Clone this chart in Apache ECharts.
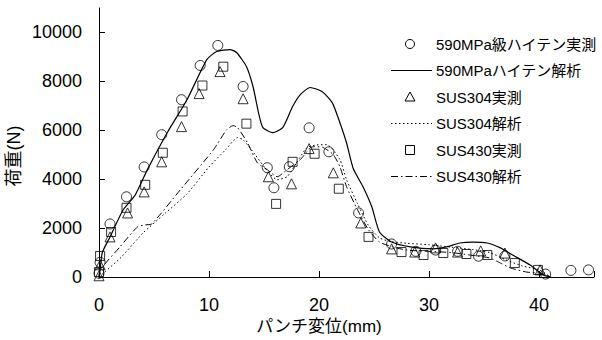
<!DOCTYPE html>
<html>
<head>
<meta charset="utf-8">
<script src="https://cdn.jsdelivr.net/npm/echarts@6/dist/echarts.min.js"></script>
<style>
  html, body { margin: 0; padding: 0; background: #fff; }
  #main { width: 602px; height: 340px; }
</style>
</head>
<body>
<div id="main"></div>
<script>
// パンチ変位(mm) と 荷重(N) の読み取り値
var xTicks = [0, 10, 20, 30, 40];
var yTicks = [0, 2000, 4000, 6000, 8000, 10000];

var hiten_exp = [[0,150],[0.1,600],[1.0,2170],[2.5,3280],[4.1,4500],[5.7,5820],[7.5,7250],[9.2,8650],[10.8,9470],
  [13.1,7790],[15.3,4470],[15.9,3650],[17.3,4510],[19.1,6100],[20.9,5120],[23.6,2620],[26.6,1350],[28.8,1050],
  [30.6,1100],[32.6,1050],[34.5,850],[36.9,860],[40.6,120],[42.9,270],[44.5,290]];

var hiten_fem = [[0,0],[0.1,300],[0.3,1000],[1.0,1640],[2.2,2750],[3.3,3360],[4.4,4390],[6.2,5900],[8.0,7250],
  [9.8,8890],[10.7,9220],[11.9,9300],[12.5,9180],[13.4,8610],[14.0,7790],[14.5,6720],[14.9,6110],[15.8,5900],
  [16.7,6110],[17.6,6970],[18.3,7460],[19.2,7750],[20.3,7580],[21.2,7130],[21.9,6310],[22.5,5490],[23.1,4450],
  [24.0,3690],[24.8,2870],[25.5,1840],[26.6,1430],[28.3,1230],[30.4,1150],[31.6,1230],[32.8,1390],[34.0,1430],
  [35.3,1390],[36.5,1190],[37.6,900],[39.2,490],[40.4,80],[41.1,0]];

var sus304_exp = [[0,50],[0.1,500],[1.0,1640],[2.6,2620],[4.1,3480],[5.7,4710],[7.5,6150],[9.1,7500],[11.0,8400],
  [13.1,7290],[15.4,4100],[17.5,3810],[19.1,5250],[21.3,4260],[23.8,2210],[26.6,1150],[28.7,1020],[30.6,1190],
  [32.6,1020],[34.7,1070],[36.9,980],[40.1,290]];

var sus304_fem = [[0,0],[2,800],[4,1800],[6,2600],[8,3400],[10,4500],[11.5,5200],[12.6,5700],[13.1,5610],
  [14.2,5000],[15.2,4400],[16.2,3980],[17.1,4100],[18.0,4700],[18.9,5290],[19.8,5400],[20.7,5410],[21.9,4800],
  [22.5,3980],[23.5,3000],[24.5,2100],[25.5,1600],[26.5,1450],[28,1380],[30,1320],[32,1220],[34,1120],
  [35.5,1000],[37,700],[38.5,450],[40,300],[41,0]];

var sus430_exp = [[0,200],[0.1,860],[1.1,1840],[2.5,2830],[4.2,3770],[5.8,5080],[7.6,6770],[9.4,7830],[11.3,8600],
  [13.4,6270],[16.1,2990],[17.6,4710],[19.6,5040],[21.8,3610],[24.5,1640],[27.5,1020],[29.5,900],[31.3,980],
  [33.4,940],[35.3,900],[37.8,570],[39.9,290]];

var sus430_fem = [[0,0],[0.1,290],[1.9,1230],[3.5,2050],[4.2,2130],[4.8,2170],[7.4,3570],[10.4,5200],[11.6,6020],
  [12.2,6190],[12.6,6110],[13.5,5490],[14.4,4670],[15.3,4390],[16.2,4100],[17.1,4390],[18.3,4800],[19.2,5290],
  [19.6,5330],[20.4,5290],[21.3,5000],[21.9,4510],[22.5,3700],[23.5,2750],[24.5,1930],[25.5,1430],[26.7,1230],
  [28,1100],[30,1050],[32,1000],[33.7,900],[35.5,780],[36.5,570],[37.4,370],[38.9,200],[40.1,160],[41.0,40]];

var names = ['590MPa級ハイテン実測', '590MPaハイテン解析', 'SUS304実測', 'SUS304解析', 'SUS430実測', 'SUS430解析'];
var icons = ['circle', 'solid', 'triangle', 'dotted', 'rect', 'dashdot'];

var FONT = '"Liberation Sans", Arial, "Noto Sans CJK JP", sans-serif';
var DOTTED = [1.5, 2.5];
var DASHDOT = [7, 3, 1.5, 3];

var chart = echarts.init(document.getElementById('main'), null, { renderer: 'svg' });

function expSeries(name, symbol, size, data) {
    return {
        name: name,
        type: 'scatter',
        symbol: symbol,
        symbolSize: size,
        z: 5,
        itemStyle: { color: 'rgba(255,255,255,0)', borderColor: '#000', borderWidth: 1 },
        data: data
    };
}

function femSeries(name, lineType, width, data) {
    return {
        name: name,
        type: 'line',
        symbol: 'none',
        smooth: 0.2,
        z: 3,
        lineStyle: { color: '#000', width: width, type: lineType },
        itemStyle: { color: '#000' },
        data: data
    };
}

// 凡例 (右上)
var legendItems = [];
var lx = 410, ly0 = 44, lstep = 26.5;
names.forEach(function (nm, i) {
    var y = ly0 + i * lstep;
    var st = { fill: 'none', stroke: '#000', lineWidth: 1 };
    var ic = icons[i];
    if (ic === 'circle') {
        legendItems.push({ type: 'circle', shape: { cx: lx, cy: y, r: 4.5 }, style: st });
    } else if (ic === 'triangle') {
        legendItems.push({ type: 'polygon', shape: { points: [[lx - 5, y + 4], [lx, y - 5], [lx + 5, y + 4]] }, style: st });
    } else if (ic === 'rect') {
        legendItems.push({ type: 'rect', shape: { x: lx - 4.5, y: y - 4.5, width: 9, height: 9 }, style: st });
    } else {
        var dash = ic === 'dotted' ? DOTTED : (ic === 'dashdot' ? DASHDOT : null);
        legendItems.push({ type: 'line', shape: { x1: 391, y1: y, x2: 432, y2: y },
            style: { stroke: '#000', lineWidth: 1, lineDash: dash } });
    }
    legendItems.push({ type: 'text', x: 436, y: y,
        style: { text: nm, fontSize: 15, fontFamily: FONT, fill: '#000', verticalAlign: 'middle' } });
});

var option = {
    backgroundColor: '#fff',
    animation: false,
    textStyle: { fontFamily: FONT },
    grid: { left: 99, right: 8, top: 8, bottom: 63 },
    xAxis: {
        type: 'value',
        min: 0,
        max: 45,
        interval: 10,
        splitLine: { show: false },
        axisLine: { lineStyle: { color: '#000', width: 1 } },
        axisTick: { inside: true, length: 6, lineStyle: { color: '#000' } },
        axisLabel: {
            color: '#000', fontSize: 18, margin: 19, fontFamily: FONT,
            formatter: function (v) { return xTicks.indexOf(v) >= 0 ? String(v) : ''; }
        }
    },
    yAxis: {
        type: 'value',
        min: 0,
        max: 11000,
        interval: 2000,
        splitLine: { show: false },
        axisLine: { show: true, lineStyle: { color: '#000', width: 1 } },
        axisTick: { show: true, inside: true, length: 6, lineStyle: { color: '#000' } },
        axisLabel: {
            color: '#000', fontSize: 18, margin: 17, fontFamily: FONT,
            showMaxLabel: false,
            formatter: function (v) { return yTicks.indexOf(v) >= 0 ? String(v) : ''; }
        }
    },
    graphic: [
        {
            type: 'text', x: 14, y: 156, rotation: Math.PI / 2,
            style: { text: '荷重(N)', fontSize: 18, fontFamily: FONT, fill: '#000', align: 'center', verticalAlign: 'middle' }
        },
        {
            type: 'text', x: 319, y: 326,
            style: { text: 'パンチ変位(mm)', fontSize: 17, fontFamily: FONT, fill: '#000', align: 'center', verticalAlign: 'middle' }
        }
    ].concat(legendItems),
    series: [
        expSeries(names[0], 'circle', 10, hiten_exp),
        femSeries(names[1], 'solid', 1.2, hiten_fem),
        expSeries(names[2], 'triangle', 10, sus304_exp),
        femSeries(names[3], DOTTED, 1, sus304_fem),
        expSeries(names[4], 'rect', 9, sus430_exp),
        femSeries(names[5], DASHDOT, 1, sus430_fem)
    ]
};

chart.setOption(option);
</script>
</body>
</html>
